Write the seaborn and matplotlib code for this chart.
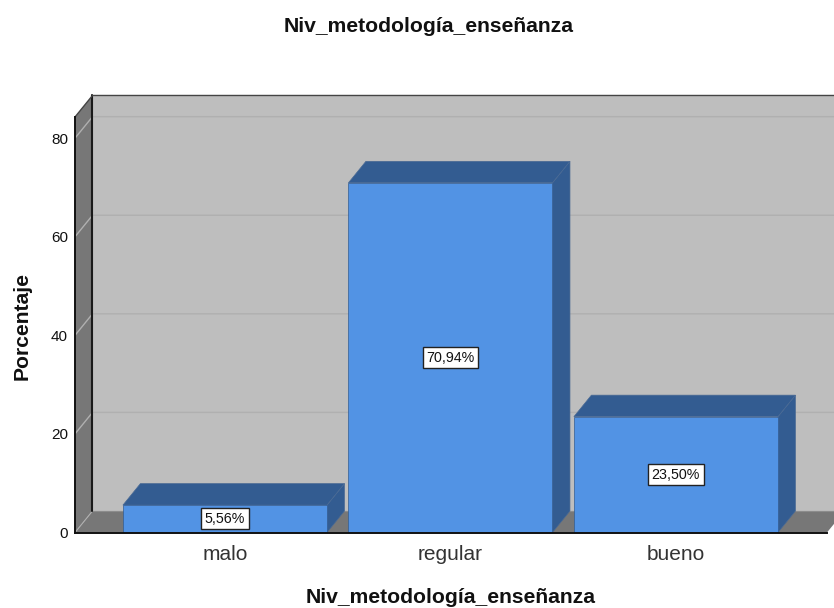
import matplotlib
matplotlib.use("Agg")
import matplotlib.pyplot as plt
from matplotlib.patches import Polygon
import pandas as pd
import seaborn as sns

# Datos
categorias = ["malo", "regular", "bueno"]
porcentajes = [5.56, 70.94, 23.50]
etiquetas = ["5,56%", "70,94%", "23,50%"]
ticks_y = [0, 20, 40, 60, 80]
titulo = "Niv_metodología_enseñanza"

W, H = 834, 608
FRONT = "#5293E4"
DARK = "#335C91"
WALL = "#BEBEBE"
FLOOR = "#777777"
GRID = "#B0B0B0"
DEPTH_X, DEPTH_Y = 17.5, 21.5  # profundidad en pixeles

sns.set_theme(style="white")
plt.rcParams["font.family"] = ["Liberation Sans", "DejaVu Sans"]

df = pd.DataFrame({"nivel": categorias, "pct": porcentajes})

fig = plt.figure(figsize=(W / 100, H / 100), dpi=100, facecolor="white")
ax = fig.add_axes([75 / W, (H - 532.5) / H, 752 / W, 415.5 / H])
ax.patch.set_visible(False)

sns.barplot(data=df, x="nivel", y="pct", color=FRONT, saturation=1, width=0.905,
            edgecolor=DARK, linewidth=0.5, ax=ax, zorder=3)

ax.set_xlim(-0.665, 2.67)
ax.set_ylim(0, 84.3)

# pasar la profundidad a unidades de datos
dx = DEPTH_X / 225.5
dy = DEPTH_Y / 4.925
x0, x1 = ax.get_xlim()
ymax = ax.get_ylim()[1]


def poly(pts, fc, ec="none", lw=0, z=1):
    ax.add_patch(Polygon(pts, closed=True, facecolor=fc, edgecolor=ec, linewidth=lw,
                         zorder=z, clip_on=False))


# paredes y suelo
poly([(x0 + dx, dy), (x1 + dx, dy), (x1 + dx, ymax + dy), (x0 + dx, ymax + dy)], WALL)
poly([(x0, 0), (x0 + dx, dy), (x0 + dx, ymax + dy), (x0, ymax)], FLOOR)
poly([(x0, 0), (x1, 0), (x1 + dx, dy), (x0 + dx, dy)], FLOOR)

# lineas de rejilla sobre la pared
for t in ticks_y[1:]:
    ax.plot([x0, x0 + dx, x1 + dx], [t, t + dy, t + dy], color=GRID, lw=1, zorder=1.5,
            clip_on=False)
ax.plot([x0, x0 + dx], [0, dy], color=GRID, lw=0.8, zorder=1.5, clip_on=False)

# bordes
ax.plot([x0 + dx, x0 + dx], [dy, ymax + dy], color="#1A1A1A", lw=1.5, zorder=2, clip_on=False)
ax.plot([x0, x0 + dx, x1 + dx], [ymax, ymax + dy, ymax + dy], color="#444444", lw=1, zorder=2,
        clip_on=False)
ax.plot([x0 + dx, x1 + dx], [dy, dy], color="#8C8C8C", lw=0.8, zorder=1.6, clip_on=False)

# caras laterales y superiores de cada barra
for bar, etiqueta in zip(ax.patches[:len(categorias)], etiquetas):
    izq, der = bar.get_x(), bar.get_x() + bar.get_width()
    alto = bar.get_height()
    poly([(der, 0), (der + dx, dy), (der + dx, alto + dy), (der, alto)], DARK, "#4A6A94", 0.5, 2.5)
    poly([(izq, alto), (der, alto), (der + dx, alto + dy), (izq + dx, alto + dy)], DARK, "#4A6A94", 0.5, 2.5)
    ax.text((izq + der) / 2, alto / 2, etiqueta, ha="center", va="center", fontsize=10.3,
            color="#111111", zorder=5,
            bbox=dict(boxstyle="square,pad=0.25", facecolor="white", edgecolor="#222222", linewidth=1))

sns.despine(ax=ax, top=True, right=True)
for lado in ["left", "bottom"]:
    ax.spines[lado].set_color("#111111")
    ax.spines[lado].set_linewidth(1.4)
    ax.spines[lado].set_zorder(6)

ax.set_yticks(ticks_y)
ax.tick_params(axis="y", length=0, labelsize=11, pad=5, labelcolor="#111111")
ax.tick_params(axis="x", length=0, labelsize=15, pad=9, labelcolor="#333333")

ax.set_xlabel(titulo, fontsize=15.2, fontweight="bold", color="#111111", labelpad=17.5)
ax.set_ylabel("Porcentaje", fontsize=15.2, fontweight="bold", color="#111111", labelpad=0)
ax.yaxis.set_label_coords(-43 / 752, (532.5 - 326) / 415.5)
fig.text(429 / W, 1 - 26 / H, titulo, ha="center", va="center", fontsize=15.2, fontweight="bold",
         color="#111111")

fig.savefig("out.png", dpi=100)
plt.close(fig)
